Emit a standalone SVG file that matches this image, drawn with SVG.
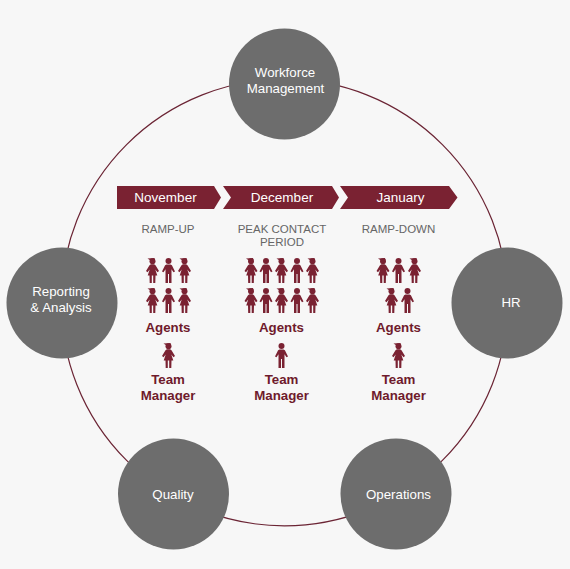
<svg xmlns="http://www.w3.org/2000/svg" width="570" height="569" viewBox="0 0 570 569">
<style>
text{font-family:"Liberation Sans",Arial,sans-serif;text-anchor:middle}
.n{fill:#6d6d6d}
.nt{fill:#fff;font-size:13.3px}
.c{fill:#7a2232}
.ct{fill:#fff;font-size:13.5px}
.s{fill:#666;font-size:11.5px}
.b{fill:#6f1b2c;font-size:13.3px;font-weight:bold}
.i{fill:#7a2232}
</style>
<defs>
<g id="f"><circle cx="0" cy="3.2" r="3"/><path d="M-5 .6L2 0L2.500 2L-2 2.600Z"/><path d="M-1.600 6.200L1.600 6.200L3 7.200L6.500 13L5 14.300L2.800 11.500L4.800 17.500L3 17.500L2.800 25L.7 25L.7 17.500L-.7 17.500L-.7 25L-2.800 25L-3 17.500L-4.800 17.500L-2.800 11.500L-5 14.300L-6.500 13L-3 7.200Z"/></g>
<g id="m"><circle cx="0" cy="3" r="3"/><path d="M-2 6.400L2 6.400L3.400 7.200L6.500 13.400L5 14.300L3 11.200L3 25L.5 25L.5 16L-.5 16L-.5 25L-3 25L-3 11.200L-5 14.300L-6.500 13.400L-3.400 7.200Z"/></g>
</defs>
<rect width="570" height="569" fill="#f7f7f7"/>
<g id="connectors"><circle cx="284.500" cy="302.500" r="223.300" fill="none" stroke="#6b2434" stroke-width="1.200"/></g>
<g id="node-workforce"><circle class="n" cx="284.500" cy="84" r="55.500"/><text class="nt" x="285" y="77">Workforce</text><text class="nt" x="285.500" y="93">Management</text></g>
<g id="node-hr"><circle class="n" cx="507" cy="303" r="55.500"/><text class="nt" x="511" y="307">HR</text></g>
<g id="node-operations"><circle class="n" cx="396" cy="494" r="55.500"/><text class="nt" x="398.500" y="499">Operations</text></g>
<g id="node-quality"><circle class="n" cx="173.500" cy="494" r="55.500"/><text class="nt" x="173" y="499">Quality</text></g>
<g id="node-reporting"><circle class="n" cx="62" cy="303" r="55.500"/><text class="nt" x="61" y="296">Reporting</text><text class="nt" x="61" y="312">&amp; Analysis</text></g>
<g id="timeline">
<polygon class="c" points="117,186 214,186 221,197.500 214,209 117,209"/>
<polygon class="c" points="223,186 332,186 339,197.500 332,209 223,209 231,197.500"/>
<polygon class="c" points="340,186 449,186 457.500,197.500 449,209 340,209 348,197.500"/>
<text class="ct" x="165.500" y="202">November</text><text class="ct" x="282" y="202">December</text><text class="ct" x="400.500" y="202">January</text>
</g>
<g id="november">
<text class="s" x="168" y="233">RAMP-UP</text>
<g class="i"><use href="#f" x="152.500" y="258"/><use href="#m" x="168.500" y="258"/><use href="#f" x="184.500" y="258"/><use href="#f" x="152.500" y="288"/><use href="#m" x="168.500" y="288"/><use href="#f" x="184.500" y="288"/><use href="#f" x="168.500" y="343"/></g>
<text class="b" x="168" y="332">Agents</text><text class="b" x="168" y="384">Team</text><text class="b" x="168" y="400">Manager</text>
</g>
<g id="december">
<text class="s" x="282" y="233">PEAK CONTACT</text><text class="s" x="282" y="246">PERIOD</text>
<g class="i"><use href="#f" x="251" y="258"/><use href="#m" x="266" y="258"/><use href="#f" x="281.500" y="258"/><use href="#m" x="297" y="258"/><use href="#f" x="312.500" y="258"/><use href="#f" x="251" y="288"/><use href="#m" x="266" y="288"/><use href="#f" x="281.500" y="288"/><use href="#m" x="297" y="288"/><use href="#f" x="312.500" y="288"/><use href="#m" x="281.500" y="343"/></g>
<text class="b" x="281.500" y="332">Agents</text><text class="b" x="281.500" y="384">Team</text><text class="b" x="281.500" y="400">Manager</text>
</g>
<g id="january">
<text class="s" x="398.500" y="233">RAMP-DOWN</text>
<g class="i"><use href="#f" x="383" y="258"/><use href="#m" x="398.500" y="258"/><use href="#f" x="414.500" y="258"/><use href="#f" x="391.500" y="288"/><use href="#m" x="407.500" y="288"/><use href="#f" x="398.500" y="343"/></g>
<text class="b" x="398.500" y="332">Agents</text><text class="b" x="398.500" y="384">Team</text><text class="b" x="398.500" y="400">Manager</text>
</g>
</svg>
